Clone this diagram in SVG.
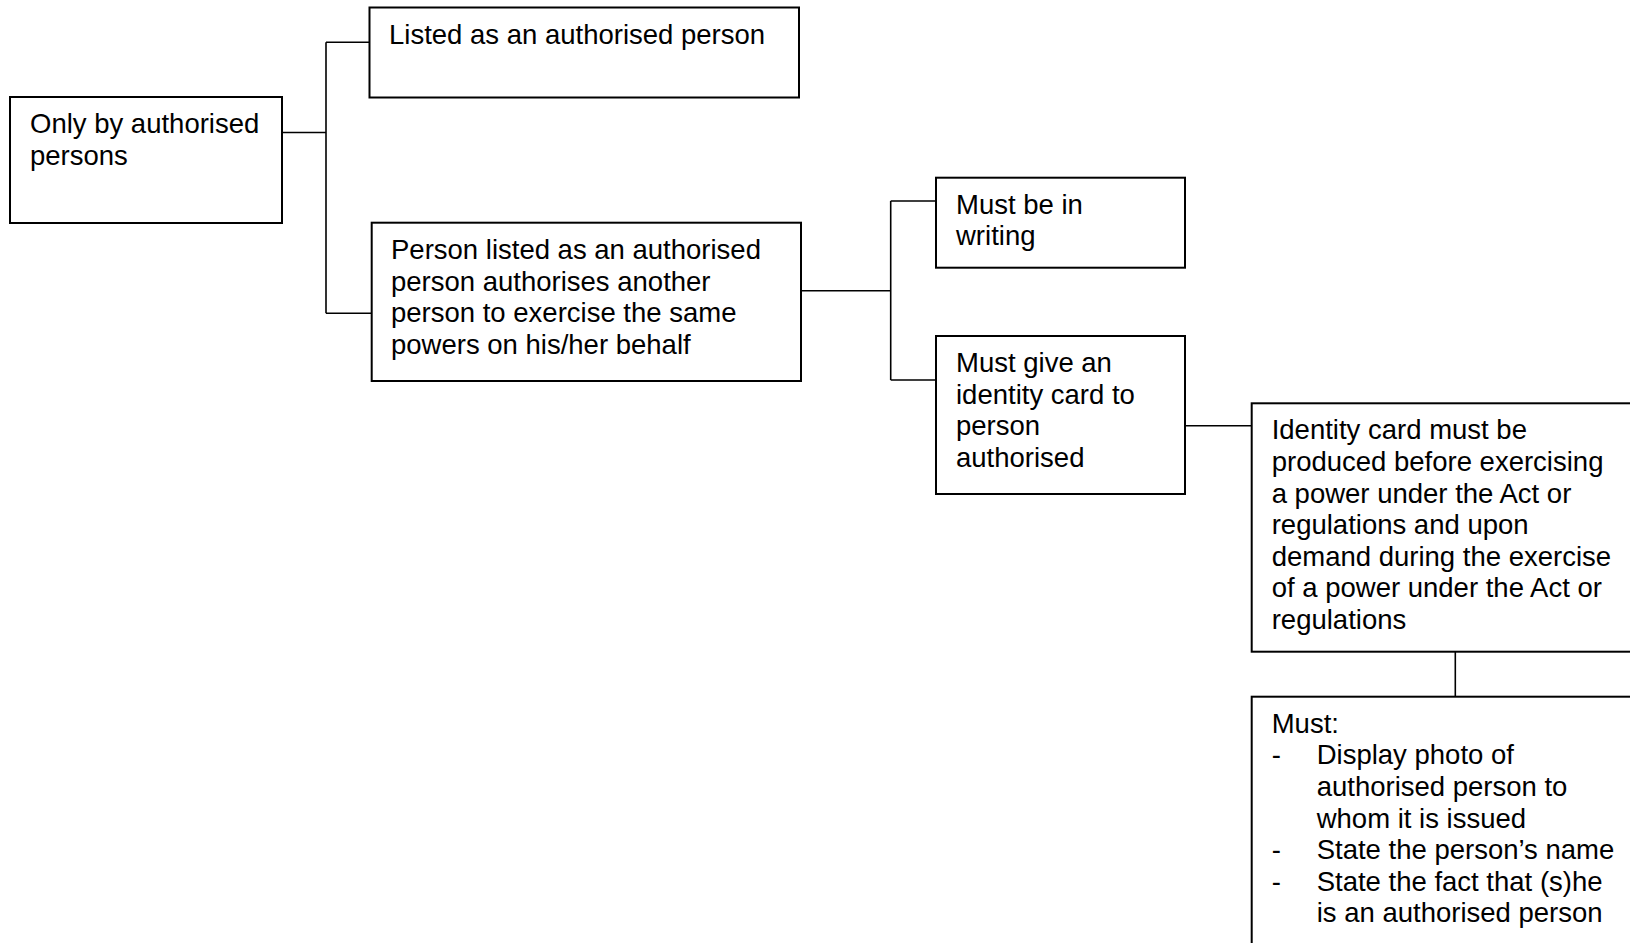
<svg xmlns="http://www.w3.org/2000/svg" width="1630" height="943" viewBox="0 0 1630 943">
<style>
.box{fill:#fff;stroke:#000;stroke-width:2}
.con{fill:none;stroke:#000;stroke-width:1.6}
text{font-family:"Liberation Sans",Arial,sans-serif;font-size:27.5px;fill:#000}
</style>
<rect width="1630" height="943" fill="#fff"/>
<g id="connectors">
<path class="con" d="M282,132.5 H326 M326,42.3 V313.3 M326,42.3 H369.5 M326,313.3 H371.7"/>
<path class="con" d="M801,290.7 H890.7 M890.7,201 V380 M890.7,201 H936 M890.7,380 H936"/>
<path class="con" d="M1185,425.7 H1251.7"/>
<path class="con" d="M1455.3,651.7 V696.7"/>
</g>
<g id="node-only">
<rect class="box" x="10" y="97" width="272" height="126"/>
<text x="30" y="133">Only by authorised</text>
<text x="30" y="164.6">persons</text>
</g>
<g id="node-listed">
<rect class="box" x="369.5" y="7.5" width="429.5" height="90"/>
<text x="389" y="43.5">Listed as an authorised person</text>
</g>
<g id="node-person">
<rect class="box" x="371.7" y="222.7" width="429.3" height="158.3"/>
<text x="391" y="259">Person listed as an authorised</text>
<text x="391" y="290.6">person authorises another</text>
<text x="391" y="322.2">person to exercise the same</text>
<text x="391" y="353.8">powers on his/her behalf</text>
</g>
<g id="node-writing">
<rect class="box" x="936" y="177.7" width="249" height="90"/>
<text x="956" y="213.7">Must be in</text>
<text x="956" y="245.3">writing</text>
</g>
<g id="node-card">
<rect class="box" x="936" y="336" width="249" height="158"/>
<text x="956" y="372">Must give an</text>
<text x="956" y="403.6">identity card to</text>
<text x="956" y="435.2">person</text>
<text x="956" y="466.8">authorised</text>
</g>
<g id="node-produce">
<rect class="box" x="1251.7" y="403.3" width="500" height="248.4"/>
<text x="1271.7" y="439.3">Identity card must be</text>
<text x="1271.7" y="470.9">produced before exercising</text>
<text x="1271.7" y="502.5">a power under the Act or</text>
<text x="1271.7" y="534.1">regulations and upon</text>
<text x="1271.7" y="565.7">demand during the exercise</text>
<text x="1271.7" y="597.3">of a power under the Act or</text>
<text x="1271.7" y="628.9">regulations</text>
</g>
<g id="node-must">
<rect class="box" x="1251.7" y="696.7" width="500" height="400"/>
<text x="1271.7" y="732.7">Must:</text>
<text x="1271.7" y="764.3">-</text>
<text x="1316.7" y="764.3">Display photo of</text>
<text x="1316.7" y="795.9">authorised person to</text>
<text x="1316.7" y="827.5">whom it is issued</text>
<text x="1271.7" y="859.1">-</text>
<text x="1316.7" y="859.1">State the person’s name</text>
<text x="1271.7" y="890.7">-</text>
<text x="1316.7" y="890.7">State the fact that (s)he</text>
<text x="1316.7" y="922.3">is an authorised person</text>
</g>
</svg>
